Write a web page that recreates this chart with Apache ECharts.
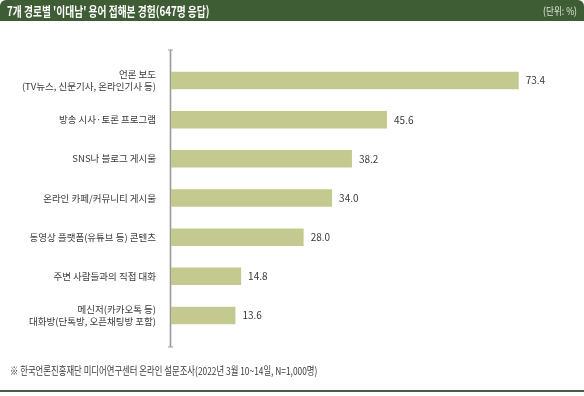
<!DOCTYPE html>
<html><head><meta charset="utf-8">
<script src="https://cdn.jsdelivr.net/npm/echarts@6/dist/echarts.min.js"></script>
<style>html,body{margin:0;padding:0;background:#fff}#c{width:584px;height:396px}</style>
</head><body><div id="c"></div>
<script>
const categories = [
  '언론 보도\n(TV뉴스, 신문기사, 온라인기사 등)',
  '방송 시사·토론 프로그램',
  'SNS나 블로그 게시물',
  '온라인 카페/커뮤니티 게시물',
  '동영상 플랫폼(유튜브 등) 콘텐츠',
  '주변 사람들과의 직접 대화',
  '메신저(카카오톡 등)\n대화방(단톡방, 오픈채팅방 포함)'
];
const values = [73.4, 45.6, 38.2, 34.0, 28.0, 14.8, 13.6];
const titleText = "7개 경로별 '이대남' 용어 접해본 경험(647명 응답)";
const unitText = '(단위: %)';
const sourceText = '※ 한국언론진흥재단 미디어연구센터 온라인 설문조사(2022년 3월 10~14일, N=1,000명)';

const FONT = '"Noto Sans CJK KR", "Noto Sans", sans-serif';
const chart = echarts.init(document.getElementById('c'), null, {renderer: 'canvas'});
chart.setOption({
  animation: false,
  backgroundColor: '#ffffff',
  grid: {left: 171, right: 34, top: 61, bottom: 61},
  xAxis: {type: 'value', min: 0, max: 80, show: false},
  yAxis: {
    type: 'category', inverse: true, data: categories,
    axisLine: {show: false}, axisTick: {show: false},
    axisLabel: {color: '#3a3a3a', fontFamily: FONT, fontSize: 9.5, lineHeight: 12, margin: 15, align: 'right'}
  },
  series: [{
    type: 'bar', data: values, barWidth: 17.5,
    itemStyle: {color: '#c4ca8f'},
    label: {show: true, position: 'right', distance: 7, color: '#3a3a3a', fontFamily: FONT, fontSize: 10,
      formatter: p => p.value.toFixed(1)}
  }],
  graphic: [
    {type: 'rect', shape: {x: 0, y: 0, width: 584, height: 21, r: [6, 6, 0, 0]}, style: {fill: '#3e5d34'}},
    {type: 'text', x: 7, y: 11, scaleX: 0.75, style: {text: titleText, fill: '#fff', font: 'bold 13px ' + FONT, verticalAlign: 'middle'}},
    {type: 'text', x: 577, y: 11, scaleX: 0.82, style: {text: unitText, fill: '#dfe3d6', font: '10.5px ' + FONT, align: 'right', verticalAlign: 'middle'}},
    {type: 'line', shape: {x1: 170.5, y1: 50, x2: 170.5, y2: 347}, style: {stroke: '#9a9a9a', lineWidth: 1.6}},
    {type: 'line', shape: {x1: 168, y1: 50, x2: 173, y2: 50}, style: {stroke: '#9a9a9a', lineWidth: 1}},
    {type: 'line', shape: {x1: 168, y1: 347, x2: 173, y2: 347}, style: {stroke: '#9a9a9a', lineWidth: 1}},
    {type: 'text', x: 10, y: 371, scaleX: 0.76, style: {text: sourceText, fill: '#3a3a3a', font: '11px ' + FONT, verticalAlign: 'middle'}},
    {type: 'rect', shape: {x: 0, y: 390, width: 584, height: 2}, style: {fill: '#4b5e45'}}
  ]
});
</script></body></html>
